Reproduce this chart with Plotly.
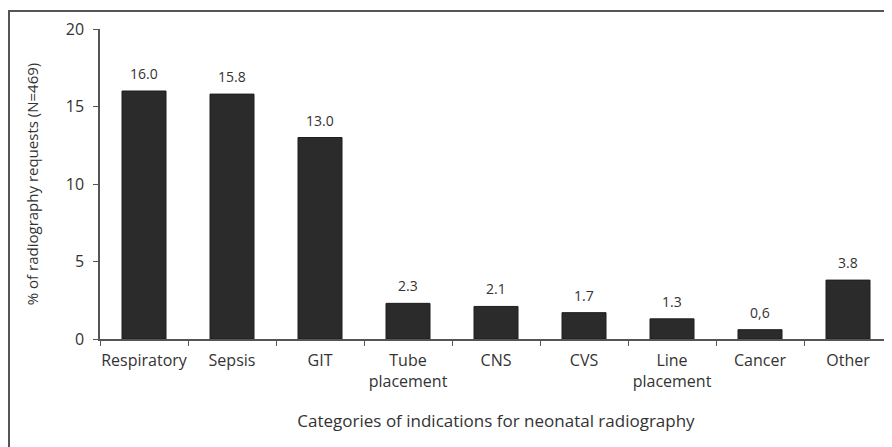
import plotly.graph_objects as go

categories = ["Respiratory", "Sepsis", "GIT", "Tube<br>placement", "CNS", "CVS",
              "Line<br>placement", "Cancer", "Other"]
values = [16.0, 15.8, 13.0, 2.3, 2.1, 1.7, 1.3, 0.6, 3.8]
value_labels = ["16.0", "15.8", "13.0", "2.3", "2.1", "1.7", "1.3", "0,6", "3.8"]
y_ticks = [0, 5, 10, 15, 20]

FONT = "Open Sans"
# page body has an 8px default margin, so the figure starts at (8, 8)
W, H = 884, 439
L, R, T, B = 92, 0, 21, 108

fig = go.Figure()
fig.add_trace(go.Bar(
    x=categories, y=values, width=0.5,
    marker=dict(color="#2b2b2b", line=dict(color="#1e1e1e", width=1)),
    hoverinfo="skip",
))

for c, v, lab in zip(categories, values, value_labels):
    fig.add_annotation(x=c, y=v, text=lab, showarrow=False, yanchor="bottom",
                       yshift=6, font=dict(family=FONT, size=14, color="#333"))

pw = W - L - R
ph = H - T - B
# outer frame
fig.add_shape(type="rect", xref="paper", yref="paper",
              x0=(1 - L) / pw, x1=1.02,
              y0=-(H + 20 - (T + ph)) / ph, y1=(T + ph - 3) / ph,
              line=dict(color="#555", width=2), layer="below")

fig.update_layout(
    width=W, height=H,
    margin=dict(l=L, r=R, t=T, b=B),
    paper_bgcolor="white", plot_bgcolor="white",
    showlegend=False,
    font=dict(family=FONT, color="#333"),
    xaxis=dict(
        type="category", range=[-0.5, 8.5],
        showline=True, linecolor="#555", linewidth=1.5,
        ticks="outside", tickson="boundaries", ticklen=5, tickcolor="#555",
        tickfont=dict(size=16, color="#333"), ticklabelstandoff=6, tickangle=0,
        showgrid=False, automargin=False,
        title=dict(text="Categories of indications for neonatal radiography",
                   font=dict(size=17, color="#333"), standoff=24),
    ),
    yaxis=dict(
        range=[0, 20], tickvals=y_ticks,
        showline=True, linecolor="#555", linewidth=1.5,
        ticks="outside", ticklen=5, tickcolor="#555",
        tickfont=dict(size=16, color="#333"), ticklabelstandoff=6,
        showgrid=False, zeroline=False, automargin=False,
        title=dict(text="% of radiography requests (N=469)",
                   font=dict(size=15, color="#333"), standoff=24),
    ),
)

fig.write_html("out.html")
